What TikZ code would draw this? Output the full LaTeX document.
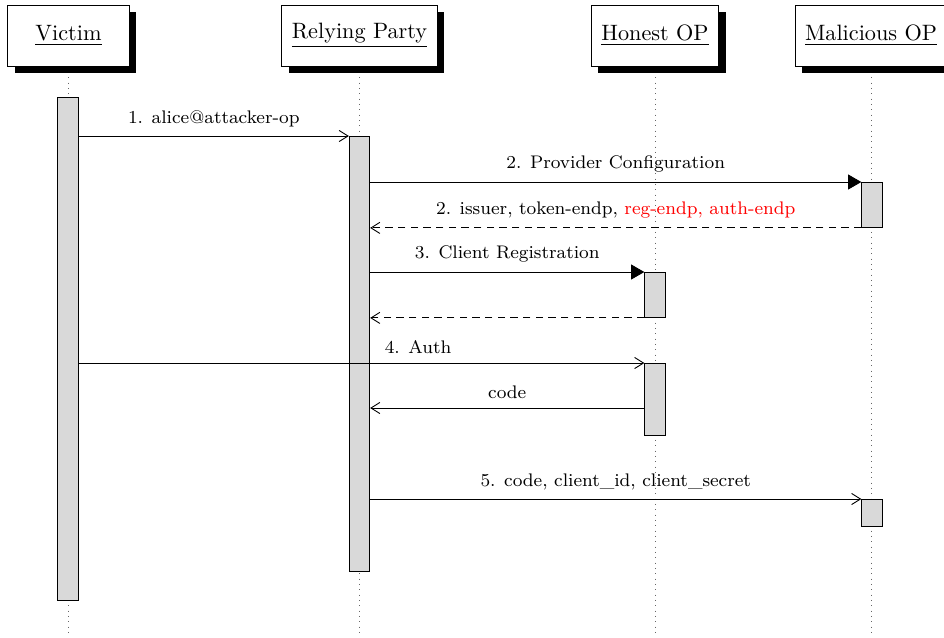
\documentclass[tikz,border=0pt]{standalone}
\usetikzlibrary{arrows.meta,shadows,backgrounds}
\begin{document}
\begin{tikzpicture}[x=0.45pt,y=-0.45pt,
  inst/.style={draw, fill=white, inner xsep=4.5pt, minimum width=54.5pt, minimum height=27.5pt,
    drop shadow={opacity=1, fill=black, shadow xshift=3.1pt, shadow yshift=-3.1pt}},
  act/.style={draw, fill=gray!30, minimum width=9.2pt, inner sep=0pt, anchor=north},
  lifeline/.style={dotted, black!60},
  call/.style={-{Triangle[length=6pt,width=6.8pt]}},
  msg/.style={-{Straight Barb[length=4pt,width=5pt]}},
  ret/.style={msg, dash pattern=on 3.3pt off 2.4pt},
  lbl/.style={font=\fontsize{8.2}{10}\selectfont, above=0.7pt}]
\useasboundingbox (0,0) rectangle (944,637);
\coordinate (bottom) at (0,637);
% instances
\node[inst] (victim) at (68.5,35.5) {\underline{Victim}};
\node[inst] (rp) at (359.5,35.5) {\underline{Relying Party}};
\node[inst] (hop) at (655,35.5) {\underline{Honest OP}};
\node[inst] (mop) at (871,35.5) {\underline{Malicious OP}};
% lifelines
\begin{pgfonlayer}{background}
\foreach \n in {victim,rp,hop,mop} \draw[lifeline] (\n.south) -- (\n.south |- bottom);
\end{pgfonlayer}
% activations
\node[act, minimum height=226.35pt] (v1) at (68,97) {};
\node[act, minimum height=195.75pt] (rp1) at (359.5,136) {};
\node[act, minimum height=20.25pt] (m1) at (872,182) {};
\node[act, minimum height=20.25pt] (h1) at (655,272) {};
\node[act, minimum height=32.4pt] (h2) at (655,363) {};
\node[act, minimum height=12.15pt] (m2) at (872,499) {};
% messages
\draw[msg] (v1.east |- rp1.north) -- node[lbl]{1. alice@attacker-op} (rp1.north west);
\draw[call] (rp1.east |- m1.north) -- node[lbl]{2. Provider Configuration} (m1.north west);
\draw[ret] (m1.south west) -- node[lbl]{2. issuer, token-endp, \textcolor{red}{reg-endp, auth-endp}} (rp1.east |- m1.south);
\draw[call] (rp1.east |- h1.north) -- node[lbl]{3. Client Registration} (h1.north west);
\draw[ret] (h1.south west) -- (rp1.east |- h1.south);
\draw[msg] (v1.east |- h2.north) -- node[lbl, pos=0.6]{4. Auth} (h2.north west);
\coordinate (codey) at (655,408);
\draw[msg] (h2.west |- codey) -- node[lbl]{code} (rp1.east |- codey);
\draw[msg] (rp1.east |- m2.north) -- node[lbl]{5. code, client\_id, client\_secret} (m2.north west);
\end{tikzpicture}
\end{document}
